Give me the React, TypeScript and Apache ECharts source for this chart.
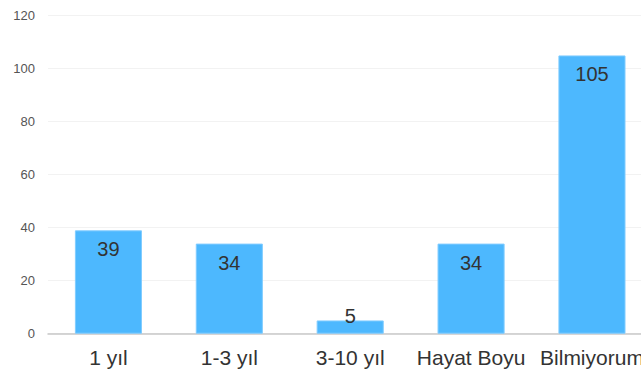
import React, { useEffect, useRef } from "react";
import * as echarts from "echarts";

const categories = ["1 yıl", "1-3 yıl", "3-10 yıl", "Hayat Boyu", "Bilmiyorum"];
const values = [39, 34, 5, 34, 105];

const FONT = "Liberation Sans, Arial, Helvetica, sans-serif";

export default function App() {
  const ref = useRef<HTMLDivElement>(null);
  useEffect(() => {
    if (!ref.current) return;
    const chart = echarts.init(ref.current, null, { renderer: "svg" });
    const data = values.map((v) =>
      v < 10
        ? { value: v, label: { position: "top", distance: -6 } }
        : { value: v }
    );
    chart.setOption({
      animation: false,
      grid: { left: 48, right: 0.6, top: 15.7, bottom: 39.3, containLabel: false },
      xAxis: {
        type: "category",
        data: categories,
        axisTick: { show: false },
        axisLine: { lineStyle: { color: "#c8c8c8", width: 1.5 } },
        axisLabel: { color: "#333", fontSize: 21, margin: 13.5, fontFamily: FONT, interval: 0 },
      },
      yAxis: {
        type: "value",
        min: 0,
        max: 120,
        interval: 20,
        axisLine: { show: false },
        axisTick: { show: false },
        splitLine: { lineStyle: { color: "#f2f2f2", width: 1 } },
        axisLabel: { color: "#555", fontSize: 13, margin: 13, fontFamily: FONT },
      },
      series: [
        {
          type: "bar",
          data,
          barWidth: "55.5%",
          itemStyle: { color: "#4db8fe", borderColor: "#80ccff", borderWidth: 1 },
          label: {
            show: true,
            position: "insideTop",
            distance: 9,
            color: "#333",
            fontSize: 20,
            fontFamily: FONT,
          },
        },
      ],
    });
    return () => chart.dispose();
  }, []);
  return (
    <div style={{ position: "fixed", left: 0, top: 0, width: 641, height: 373, overflow: "hidden", background: "#fff" }}>
      <div ref={ref} style={{ position: "absolute", left: 0, top: 0, width: 653, height: 373 }} />
    </div>
  );
}
